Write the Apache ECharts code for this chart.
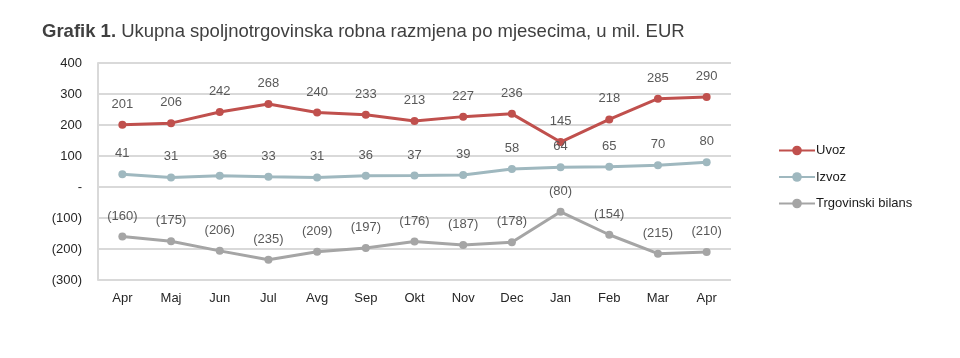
<!DOCTYPE html>
<html><head><meta charset="utf-8">
<script src="https://cdn.jsdelivr.net/npm/echarts@6/dist/echarts.min.js"></script>
<style>html,body{margin:0;padding:0;background:#fff}#c{width:960px;height:358px}</style>
</head><body><div id="c"></div>
<script>
const categories = ["Apr","Maj","Jun","Jul","Avg","Sep","Okt","Nov","Dec","Jan","Feb","Mar","Apr"];
const uvoz = [201,206,242,268,240,233,213,227,236,145,218,285,290];
const izvoz = [41,31,36,33,31,36,37,39,58,64,65,70,80];
const bilans = [-160,-175,-206,-235,-209,-197,-176,-187,-178,-80,-154,-215,-210];

function fmt(v){ if(v===0) return "-"; return v<0 ? "("+(-v)+")" : String(v); }
const font = "Arial, 'Liberation Sans', sans-serif";
const chart = echarts.init(document.getElementById('c'));
function ser(name, data, color){
  return {name, type:'line', data, symbol:'circle', symbolSize:8,
    lineStyle:{width:3,color}, itemStyle:{color},
    label:{show:true, position:'top', distance:10, color:'#595959', fontSize:13, fontFamily:font,
      formatter:p=>fmt(p.value)}};
}
chart.setOption({
  animation:false,
  title:{text:'{b|Grafik 1.} Ukupna spoljnotrgovinska robna razmjena po mjesecima, u mil. EUR',
    left:37, top:17, textStyle:{fontSize:18.5, fontWeight:'normal', color:'#404040', fontFamily:font,
    rich:{b:{fontWeight:'bold', fontSize:18.5, color:'#404040', fontFamily:font}}}},
  legend:{orient:'vertical', left:773, top:139, itemGap:13.5, itemWidth:36, itemHeight:12,
    textStyle:{fontSize:13, color:'#1a1a1a', fontFamily:font, padding:[0,0,0,-4]},
    data:['Uvoz','Izvoz','Trgovinski bilans']},
  grid:{left:98, right:229, top:63, bottom:78},
  xAxis:{type:'category', data:categories, boundaryGap:true,
    axisLine:{show:false}, axisTick:{show:false},
    axisLabel:{color:'#262626', fontSize:13, fontFamily:font, margin:12}},
  yAxis:{type:'value', min:-300, max:400, interval:100,
    axisLine:{show:true, lineStyle:{color:'#d9d9d9', width:2}}, axisTick:{show:false},
    splitLine:{lineStyle:{color:'#d9d9d9', width:2}},
    axisLabel:{color:'#262626', fontSize:13, fontFamily:font, margin:16, formatter:fmt}},
  series:[ser('Uvoz',uvoz,'#c0504d'), ser('Izvoz',izvoz,'#9fb8bf'), ser('Trgovinski bilans',bilans,'#a5a5a5')]
});
</script></body></html>
